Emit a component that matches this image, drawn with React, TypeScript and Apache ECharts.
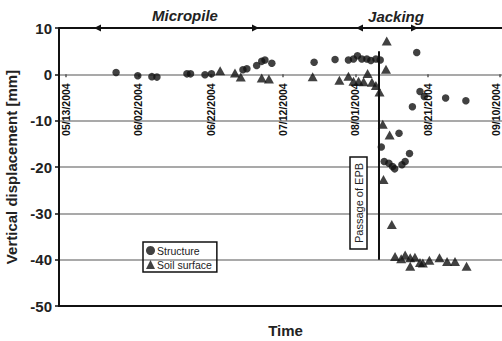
import React, { useEffect, useRef } from "react";
import * as echarts from "echarts";

// Days counted from 05/13/2004
const tickDays = [0, 20, 40, 60, 80, 100, 120];
const tickLabels = ["05/13/2004", "06/02/2004", "06/22/2004", "07/12/2004", "08/01/2004", "08/21/2004", "09/10/2004"];
const yTicks = [-50, -40, -30, -20, -10, 0, 10];

const structureDays = [
  13.8, 19.8, 23.7, 25.1, 33.4, 34.4, 38.4, 40.2, 48.9, 50.0, 52.7, 54.1, 55.0, 56.9,
  68.6, 74.4, 78.1, 79.5, 80.6, 81.8, 83.2, 84.3, 85.7, 86.9,
  87.2, 88.0, 89.3, 90.3, 90.9, 92.9, 93.8, 95.0, 92.1, 95.8, 97.0, 97.9, 99.1, 105.0, 110.6,
];
const structureValues = [
  0.4, -0.3, -0.5, -0.6, 0.1, 0.1, -0.1, 0.1, 1.0, 1.2, 1.9, 2.8, 3.1, 2.4,
  2.6, 3.2, 3.1, 3.3, 4.0, 3.3, 3.3, 3.0, 3.3, 3.1,
  -15.7, -18.8, -19.2, -19.9, -20.4, -19.5, -18.8, -17.1, -12.7, -7.0, 4.7, -3.7, -4.8, -5.1, -5.7,
];

const soilDays = [
  42.6, 46.7, 48.3, 54.1, 56.1, 68.2, 75.6, 78.1, 79.5, 80.9, 82.3, 83.4, 84.6, 85.7, 86.7,
  88.7, 88.5, 87.6, 89.5, 87.8, 90.1,
  91.0, 92.7, 93.8, 95.2, 95.2, 96.5, 97.9, 98.7, 100.5, 103.3, 105.4, 107.6, 110.8,
];
const soilValues = [
  0.75, 0.3, -0.6, -0.8, -1.0, -0.5, -1.3, -0.4, -1.5, -1.5, -1.6, 0.2, -1.7, -2.4, -3.8,
  7.2, 1.1, -10.8, -13.1, -22.7, -32.4,
  -39.3, -39.8, -39.0, -39.6, -41.4, -39.5, -40.6, -40.7, -40.1, -39.6, -40.4, -40.4, -41.4,
];

const epbDay = 86.5;
const epbRange = [5, -40];

const FONT = "'Liberation Sans', Arial, sans-serif";
const INK = "#111";
const GRID = "#8c8c8c";
const GRID_TOP = 28;
const GRID_BOTTOM = 35;
const GRID_HEIGHT = 341 - GRID_TOP - GRID_BOTTOM;

export default function App() {
  const ref = useRef<HTMLDivElement>(null);
  useEffect(() => {
    if (!ref.current) return;
    const chart = echarts.init(ref.current, null, { renderer: "svg" });
    const lastTick = tickDays[tickDays.length - 1];
    const labelFor = (v: number) => {
      const i = tickDays.indexOf(Math.round(v));
      if (i < 0) return "";
      return Math.round(v) === lastTick ? `{last|${tickLabels[i]}}` : tickLabels[i];
    };
    const yMin = yTicks[0];
    const yMax = yTicks[yTicks.length - 1];
    // move the date axis up to the zero line
    const zeroOffset = -GRID_HEIGHT * (0 - yMin) / (yMax - yMin);
    const arrow = (tipX: number, dir: number) => ({
      type: "polygon",
      shape: { points: [[tipX, 28], [tipX - dir * 7, 24.5], [tipX - dir * 7, 31.5]] },
      style: { fill: INK },
      z: 10,
    });
    chart.setOption({
      animation: false,
      backgroundColor: "#fff",
      textStyle: { fontFamily: FONT },
      grid: { left: 59, right: 0, top: GRID_TOP, bottom: GRID_BOTTOM, containLabel: false, outerBoundsMode: "none" },
      legend: {
        orient: "vertical",
        left: 143,
        top: 242,
        borderColor: INK,
        borderWidth: 1.5,
        padding: [3, 5, 2, 3],
        itemWidth: 9,
        itemHeight: 9,
        itemGap: 3,
        textStyle: { fontSize: 10.5, color: "#222", fontFamily: FONT, padding: [0, 0, 0, -3] },
        data: [
          { name: "Structure", icon: "circle" },
          { name: "Soil surface", icon: "triangle" },
        ],
      },
      xAxis: [
        {
          type: "value",
          min: -2,
          max: 120.6,
          position: "bottom",
          offset: zeroOffset,
          axisLine: { show: false, onZero: false },
          splitLine: { show: false },
          axisTick: { show: true, length: 3, customValues: tickDays, lineStyle: { color: "#555", width: 1.5 } },
          axisLabel: {
            customValues: tickDays,
            rotate: 90,
            margin: 9,
            fontSize: 10.5,
            fontWeight: "bold",
            color: INK,
            fontFamily: FONT,
            formatter: (v: number) => labelFor(v),
            rich: {
              last: { fontSize: 10.5, fontWeight: "bold", color: INK, fontFamily: FONT, padding: [0, 0, 7, 0] },
            },
          },
        },
        {
          type: "value",
          min: -2,
          max: 120.6,
          position: "bottom",
          axisLine: { show: true, onZero: false, lineStyle: { color: INK, width: 2 } },
          axisTick: { show: false },
          axisLabel: { show: false },
          splitLine: { show: false },
          name: "Time",
          nameLocation: "middle",
          nameGap: 17,
          nameTextStyle: { fontSize: 15, fontWeight: "bold", color: "#222", fontFamily: FONT, padding: [0, 0, 0, 10] },
        },
      ],
      yAxis: {
        type: "value",
        min: yMin,
        max: yMax,
        interval: 10,
        axisLine: { show: true, onZero: false, lineStyle: { color: INK, width: 2 } },
        axisTick: { show: true, length: 4, lineStyle: { color: INK, width: 1.5 } },
        axisLabel: { fontSize: 15, fontWeight: "bold", color: "#222", margin: 7, fontFamily: FONT },
        splitLine: { show: true, lineStyle: { color: GRID, width: 1.5 } },
        name: "Vertical displacement [mm]",
        nameLocation: "middle",
        nameGap: 36,
        nameTextStyle: { fontSize: 15, fontWeight: "bold", color: "#222", fontFamily: FONT },
      },
      graphic: [
        { type: "line", shape: { x1: 59, y1: 28, x2: 502, y2: 28 }, style: { stroke: INK, lineWidth: 2 }, z: 10 },
        arrow(94, -1),
        arrow(259, 1),
        arrow(356, -1),
        arrow(418, 1),
        {
          type: "text",
          x: 185,
          y: 15,
          style: { text: "Micropile", fontSize: 15, fontWeight: "bold", fontStyle: "italic", fontFamily: FONT, fill: "#222", align: "center", verticalAlign: "middle" },
        },
        {
          type: "text",
          x: 396,
          y: 16,
          style: { text: "Jacking", fontSize: 15, fontWeight: "bold", fontStyle: "italic", fontFamily: FONT, fill: "#222", align: "center", verticalAlign: "middle" },
        },
        {
          type: "rect",
          shape: { x: 350, y: 157, width: 17, height: 92 },
          style: { fill: "#fff", stroke: INK, lineWidth: 1.5 },
          z: 10,
        },
        {
          type: "text",
          x: 359,
          y: 203,
          rotation: Math.PI / 2,
          style: { text: "Passage of EPB", fontSize: 11, fontFamily: FONT, fill: "#222", align: "center", verticalAlign: "middle" },
          z: 11,
        },
      ],
      series: [
        {
          name: "Structure",
          type: "scatter",
          symbol: "circle",
          symbolSize: 7.5,
          itemStyle: { color: INK },
          data: structureDays.map((d, i) => [d, structureValues[i]]),
          markLine: {
            silent: true,
            symbol: ["none", "none"],
            label: { show: false },
            lineStyle: { color: INK, width: 2, type: "solid" },
            data: [[{ coord: [epbDay, epbRange[0]] }, { coord: [epbDay, epbRange[1]] }]],
          },
          z: 3,
        },
        {
          name: "Soil surface",
          type: "scatter",
          symbol: "triangle",
          symbolSize: [10, 9],
          itemStyle: { color: INK },
          data: soilDays.map((d, i) => [d, soilValues[i]]),
          z: 3,
        },
      ],
    });
    return () => chart.dispose();
  }, []);
  return (
    <div
      ref={ref}
      style={{ position: "fixed", left: 0, top: 0, width: 502, height: 341, background: "#fff" }}
    />
  );
}
